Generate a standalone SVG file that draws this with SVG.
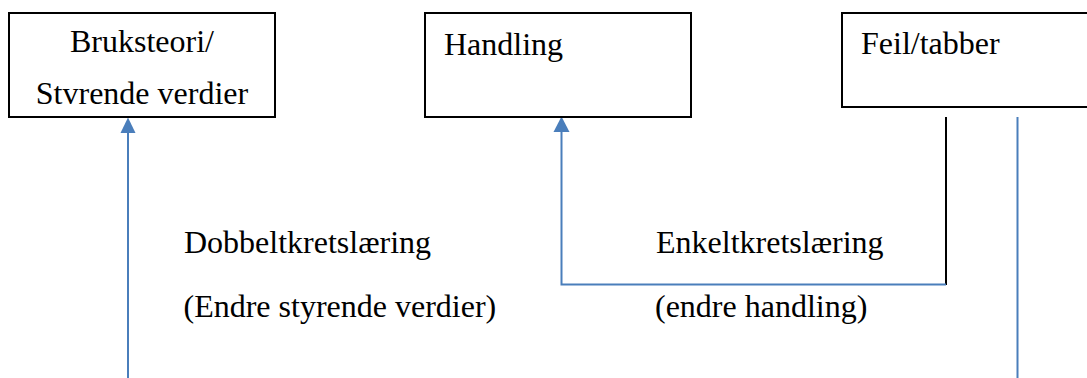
<svg xmlns="http://www.w3.org/2000/svg" width="1087" height="378" viewBox="0 0 1087 378">
  <style>
    .box { fill: #ffffff; stroke: #000000; stroke-width: 2; }
    .lbl { font-family: 'Liberation Serif', 'Times New Roman', serif; font-size: 32px; fill: #000000; }
    .blue { fill: none; stroke: #4a7ebb; stroke-width: 2; }
    .black { fill: none; stroke: #000000; stroke-width: 2; }
    .head { fill: #4a7ebb; }
  </style>

  <rect width="1087" height="378" fill="#ffffff"/>

  <!-- connectors -->
  <g id="connectors">
    <!-- double loop: from bottom up to theory box -->
    <line class="blue" x1="128" y1="378" x2="128" y2="133" />
    <path class="head" d="M120.5 133 L128 117.5 L135.5 133 Z"/>
    <!-- single loop: from errors back to action -->
    <line class="black" x1="946" y1="117" x2="946" y2="285" />
    <polyline class="blue" points="946,284.5 561.5,284.5 561.5,132" />
    <path class="head" d="M553.5 132 L561.5 116.5 L569.5 132 Z"/>
    <!-- line down from errors -->
    <line class="blue" x1="1017.5" y1="117" x2="1017.5" y2="378" />
  </g>

  <g id="node-theory">
    <rect class="box" x="9" y="13" width="266" height="104"/>
    <text class="lbl" x="142" y="52" text-anchor="middle">Bruksteori/</text>
    <text class="lbl" x="142" y="104" text-anchor="middle">Stvrende verdier</text>
  </g>

  <g id="node-action">
    <rect class="box" x="425" y="13" width="266" height="104"/>
    <text class="lbl" x="444" y="55">Handling</text>
  </g>

  <g id="node-errors">
    <rect class="box" x="842" y="13" width="260" height="94"/>
    <text class="lbl" x="861" y="54">Feil/tabber</text>
  </g>

  <g id="label-double">
    <text class="lbl" x="184" y="253">Dobbeltkretslæring</text>
    <text class="lbl" x="183.5" y="317">(Endre styrende verdier)</text>
  </g>

  <g id="label-single">
    <text class="lbl" x="656" y="253">Enkeltkretslæring</text>
    <text class="lbl" x="655" y="317">(endre handling)</text>
  </g>
</svg>
